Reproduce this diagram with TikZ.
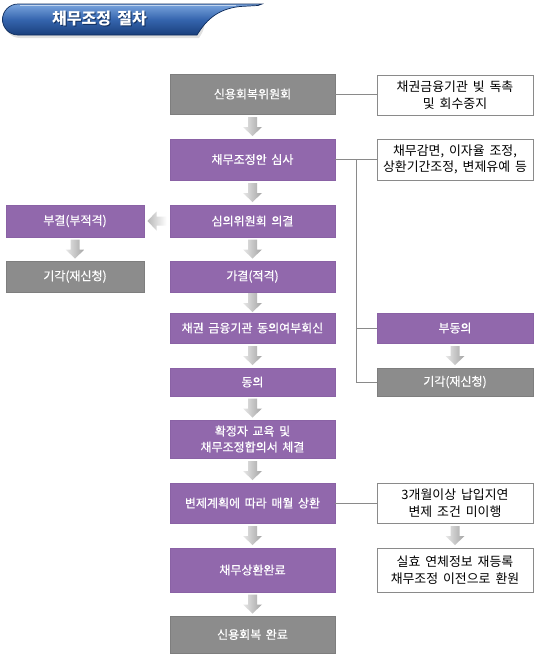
\documentclass[tikz,border=0pt]{standalone}
\usepackage{fontspec}
\newfontfamily\kr[WordSpace=1.7]{Noto Sans CJK KR}
\newfontfamily\krm[WordSpace=1.7,FakeBold=0.6]{Noto Sans CJK KR}
\usetikzlibrary{calc}
\definecolor{pur}{HTML}{9168AC}
\definecolor{purd}{HTML}{8A62A5}
\definecolor{gry}{HTML}{8C8C8C}
\definecolor{gryd}{HTML}{7E7E7E}
\definecolor{lnc}{HTML}{8A8A8A}
\definecolor{hb1}{HTML}{7AA5DE}
\definecolor{hb2}{HTML}{3565AE}
\definecolor{hb3}{HTML}{1A3F7C}
\definecolor{hbo}{HTML}{0F2D5C}
\tikzset{
  txt/.style={align=center, inner sep=0pt},
  mainbox/.style={txt, font=\krm\fontsize{12}{16}\selectfont, minimum width=165pt, text=white},
  pbox/.style={mainbox, fill=pur, draw=purd, line width=0.6pt},
  gbox/.style={mainbox, fill=gry, draw=gryd, line width=0.6pt},
  wbox/.style={txt, font=\kr\fontsize{12.9}{16.5}\selectfont, minimum width=156pt, fill=white, draw=lnc, line width=0.8pt, text=black},
  conn/.style={draw=lnc, line width=0.8pt},
  blk/.style={left color=gray!18, right color=gray!72},
}
\newcommand\dnarr[3]{% from, to, name
  \path (#1.south) -- (#2.north) coordinate[pos=0.5] (#3);
  \shade[blk] ([shift={(-4.5,-9.5)}]#3) -- ([shift={(4.5,-9.5)}]#3) -- ([shift={(4.5,0.5)}]#3)
    -- ([shift={(9.5,0.5)}]#3) -- ([shift={(0,9.5)}]#3) -- ([shift={(-9.5,0.5)}]#3)
    -- ([shift={(-4.5,0.5)}]#3) -- cycle;}
\begin{document}
\begin{tikzpicture}[x=1pt,y=-1pt]
\useasboundingbox (0,0) rectangle (538,656);
\fill[white] (0,0) rectangle (538,656);
% header
\fill[black, opacity=0.12] (20,7) -- (200,7) .. controls (208,24) and (204,30) .. (199,38) -- (20,38) arc[start angle=90,end angle=270,radius=15.5] -- cycle;
\shade[top color=hb1, bottom color=hb3, middle color=hb2, draw=hbo, line width=0.7pt]
  (18,4) -- (262,4) -- (258,5.5) -- (240,6.5) .. controls (216,9) and (205,22) .. (197,35)
  -- (18,35) arc[start angle=90,end angle=270,radius=15.5] -- cycle;
\draw[white, opacity=0.55, line width=0.8pt] (20,5.5) -- (236,5.5);
\node[font=\kr\bfseries\fontsize{16}{18}\selectfont, text=hbo, inner sep=0pt] at (100.5,20) {채무조정 절차};
\node[font=\kr\bfseries\fontsize{16}{18}\selectfont, text=white, inner sep=0pt] (ttl) at (99.5,19) {채무조정 절차};
% main column
\node[gbox, minimum height=40pt] (m1) at (252.5,94) {신용회복위원회};
\node[pbox, minimum height=41pt] (m2) at (252.5,159.5) {채무조정안 심사};
\node[pbox, minimum height=32pt] (m3) at (252.5,221) {심의위원회 의결};
\node[pbox, minimum height=31pt] (m4) at (252.5,276.5) {가결(적격)};
\node[pbox, minimum height=30pt] (m5) at (252.5,328) {채권 금융기관 동의여부회신};
\node[pbox, minimum height=28pt] (m6) at (252.5,382) {동의};
\node[pbox, minimum height=38pt] (m7) at (252.5,439) {확정자 교육 및\\채무조정합의서 체결};
\node[pbox, minimum height=40pt] (m8) at (252.5,503) {변제계획에 따라 매월 상환};
\node[pbox, minimum height=44pt] (m9) at (252.5,570) {채무상환완료};
\node[gbox, minimum height=37pt] (m10) at (252.5,634.5) {신용회복 완료};
% left column
\node[pbox, minimum width=138pt, minimum height=32pt] (l1) at (75,221) {부결(부적격)};
\node[gbox, minimum width=138pt, minimum height=31pt] (l2) at (75,276.5) {기각(재신청)};
% right column
\node[wbox, minimum height=40pt] (r1) at (455,95) {채권금융기관 빚 독촉\\및 회수중지};
\node[wbox, minimum height=41pt] (r2) at (455,159.5) {채무감면, 이자율 조정,\\상환기간조정, 변제유예 등};
\node[pbox, minimum width=156pt, minimum height=30pt] (r3) at (455,328) {부동의};
\node[gbox, minimum width=156pt, minimum height=28pt] (r4) at (455,382) {기각(재신청)};
\node[wbox, minimum height=40pt] (r5) at (455,503) {3개월이상 납입지연\\변제 조건 미이행};
\node[wbox, minimum height=44pt] (r6) at (455,570) {실효 연체정보 재등록\\채무조정 이전으로 환원};
% connectors
\draw[conn] (m1.east) -- (m1.east -| r1.west);
\draw[conn] (m2.east) -- (r2.west);
\coordinate (j) at ($(m2.east)!0.5!(r2.west)$);
\draw[conn] (j) |- (r3.west);
\draw[conn] (j) |- (r4.west);
\draw[conn] (m8.east) -- (r5.west);
% block arrows
\dnarr{m1}{m2}{a1}
\dnarr{m2}{m3}{a2}
\dnarr{m3}{m4}{a3}
\dnarr{m4}{m5}{a4}
\dnarr{m5}{m6}{a5}
\dnarr{m6}{m7}{a6}
\dnarr{m7}{m8}{a7}
\dnarr{m8}{m9}{a8}
\dnarr{m9}{m10}{a9}
\dnarr{l1}{l2}{a10}
\dnarr{r3}{r4}{a11}
\dnarr{r5}{r6}{a12}
\path (m3.west) -- (l1.east) coordinate[pos=0.5] (ah);
\shade[left color=gray!55, right color=white] ([shift={(9.5,-4.5)}]ah) -- ([shift={(9.5,4.5)}]ah) -- ([shift={(-0.5,4.5)}]ah)
  -- ([shift={(-0.5,9.5)}]ah) -- ([shift={(-9.5,0)}]ah) -- ([shift={(-0.5,-9.5)}]ah)
  -- ([shift={(-0.5,-4.5)}]ah) -- cycle;
\end{tikzpicture}
\end{document}
